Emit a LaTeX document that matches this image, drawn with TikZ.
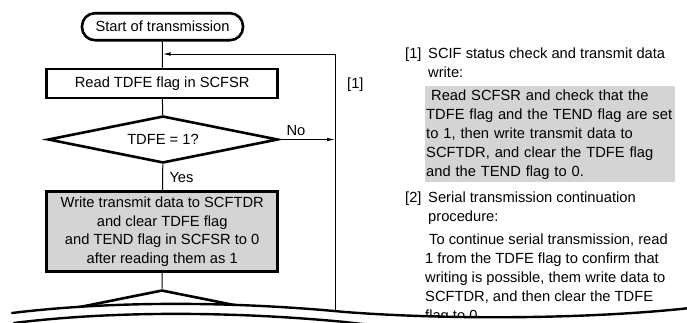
\documentclass[tikz,border=0pt]{standalone}
\usepackage{fontspec}
\setmainfont{Liberation Sans}
\usetikzlibrary{shapes.geometric,arrows.meta,positioning}
\definecolor{boxgray}{gray}{0.83}
\tikzset{
    every node/.style={font=\fontsize{14.7}{19}\selectfont},
    flow/.style={line width=1pt},
    flowarrow/.style={line width=1pt,-{Latex[length=8pt,width=3.6pt]}},
    termbox/.style={draw,line width=2.6pt,rounded corners=13pt,minimum width=161pt,minimum height=27pt,inner sep=0pt},
    procbox/.style={draw,line width=2.6pt,minimum width=231pt,minimum height=29pt,inner sep=0pt},
    decision/.style={draw,diamond,line width=2.6pt,aspect=4.9,minimum width=230pt,minimum height=47pt,inner sep=0pt},
    notetext/.style={anchor=north west,inner sep=0pt,align=left},
    notebox/.style={anchor=north west,fill=boxgray,text width=248pt,minimum height=96pt,inner xsep=1pt,inner ysep=0pt},
    breakline/.style={line width=2.4pt,line cap=round}
}
\begin{document}
\begin{tikzpicture}[x=1pt,y=-1pt]
            \useasboundingbox (0,0) rectangle (687,322);

            \node[termbox] (start) at (162.5,26.7) {Start of transmission};
            \node[procbox] (read) at (162.2,83.3) {Read TDFE flag in SCFSR};
            \node[decision] (test) at (163,139.5) {TDFE = 1?};
            \node[procbox,fill=boxgray,minimum height=80pt,align=center,
                font=\fontsize{14.7}{18.4}\selectfont] (write) at (162.2,231.7)
                {Write transmit data to SCFTDR\\and clear TDFE flag\\and TEND flag in SCFSR to 0\\after reading them as 1};
            \node[decision] (next) at (162,313.5) {};

            \coordinate (looptop) at (335,54);
            \coordinate (loopbot) at (335,320);
            \coordinate (join) at (start.south |- looptop);

            \draw[flow] (start) -- (read);
            \draw[flow] (read) -- (test);
            \draw[flow] (test) -- node[right,xshift=3pt] {Yes} (write);
            \draw[flow] (write) -- (next);
            \draw[flowarrow] (test.east) -- node[above,pos=0.3] {No} (test.east -| looptop);
            \draw[flowarrow] (loopbot) -- (looptop) -- (join);
            \node[anchor=west,inner sep=0pt] (step1) at (347,85) {[1]};

            \node[notetext] (item1) at (405,47.3)
                {\makebox[23pt][l]{[1]}SCIF status check and transmit data\\\hspace*{23pt}write:};
            \node[notebox] (box1) at (425,86)
                {\hspace*{5pt}Read SCFSR and check that the\\TDFE flag and the TEND flag are set\\to 1, then write transmit data to\\SCFTDR, and clear the TDFE flag\\and the TEND flag to 0.};
            \node[notetext] (item2) at (405,191.3)
                {\makebox[23pt][l]{[2]}Serial transmission continuation\\\hspace*{23pt}procedure:};
            \node[notetext] (body2) at (425,233.8)
                {\hspace*{4pt}To continue serial transmission, read\\1 from the TDFE flag to confirm that\\writing is possible, them write data to\\SCFTDR, and then clear the TDFE\\flag to 0.};

            \fill[white] (12,313) .. controls (110,301) and (230,301) .. (345,312)
                .. controls (450,320) and (590,319) .. (690,308) -- (690,340) -- (0,340) -- (0,313) -- cycle;
            \draw[breakline] (12,313) .. controls (110,301) and (230,301) .. (345,312)
                .. controls (450,320) and (590,319) .. (690,308);
            \draw[breakline] (14,323) .. controls (110,311) and (230,311) .. (345,322)
                .. controls (450,335) and (590,335) .. (690,328);
\end{tikzpicture}
\end{document}
